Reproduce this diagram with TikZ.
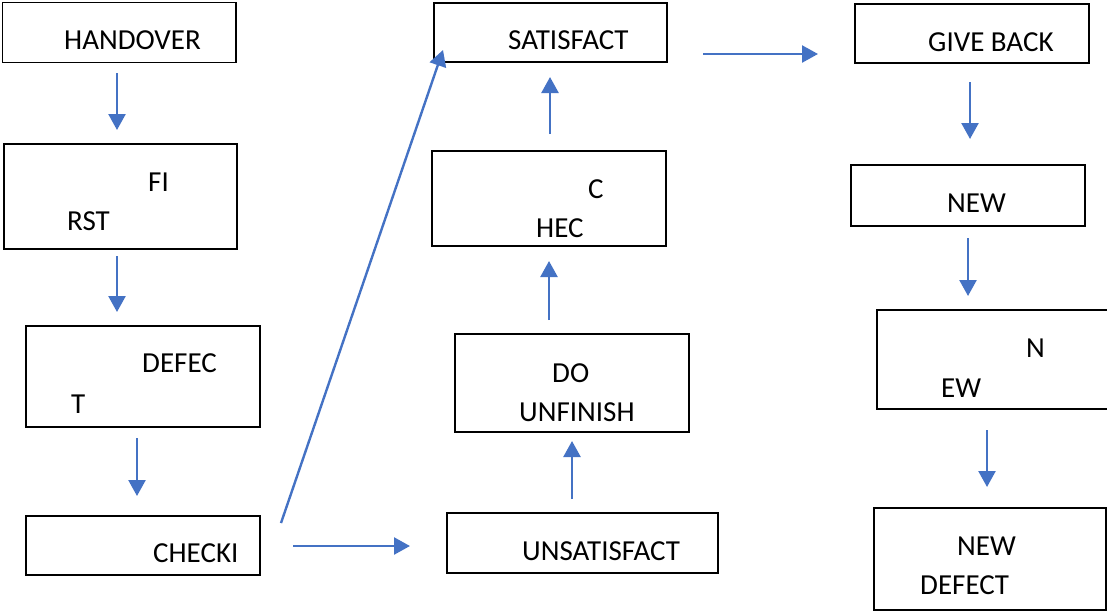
\documentclass[tikz,border=0pt]{standalone}
\usepackage{fontspec}
\setmainfont{Carlito}
\usetikzlibrary{arrows.meta, positioning}
\definecolor{cflow}{HTML}{4472C4}

\begin{document}
\begin{tikzpicture}[x=1pt, y=-1pt,
  box/.style={draw, line width=1.6pt, inner sep=0pt, outer sep=0pt},
  lbl/.style={anchor=base west, inner sep=0pt, font=\fontsize{29}{34}\selectfont},
  arr/.style={-{Triangle[length=16pt, width=17pt]}, line width=2.4pt, draw=cflow}
]
\useasboundingbox (0,0) rectangle (1107,614);

% boxes
\node[box, minimum width=233.5pt, minimum height=60pt]  (handover) at (119.3,32.5) {};
\node[box, minimum width=233pt,   minimum height=105pt] (first)    at (120.5,196.5) {};
\node[box, minimum width=234pt,   minimum height=101pt] (defect)   at (143,376.5) {};
\node[box, minimum width=234pt,   minimum height=59pt]  (checki)   at (143,545.5) {};
\node[box, minimum width=233pt,   minimum height=59pt]  (satis)    at (550.5,32.5) {};
\node[box, minimum width=234pt,   minimum height=95pt]  (check)    at (549,198.5) {};
\node[box, minimum width=234pt,   minimum height=98pt]  (unfin)    at (572,383) {};
\node[box, minimum width=271pt,   minimum height=60pt]  (unsatis)  at (582.5,543) {};
\node[box, minimum width=234pt,   minimum height=59pt]  (giveback) at (972,33.5) {};
\node[box, minimum width=234pt,   minimum height=61pt]  (new)      at (968,195.5) {};
\node[box, minimum width=234pt,   minimum height=99pt]  (newb)     at (994,359.5) {};
\node[box, minimum width=232pt,   minimum height=102pt] (newdef)   at (990,559) {};

% labels
\node[lbl] (tHandover) at (64,49)   {HANDOVER};
\node[lbl] (tFi)       at (148,191) {FI};
\node[lbl] (tRst)      at (67,230)  {RST};
\node[lbl] (tDefec)    at (142,372.5) {DEFEC};
\node[lbl] (tT)        at (71,413)  {T};
\node[lbl] (tChecki)   at (153,562.5) {CHECKI};
\node[lbl] (tSatis)    at (508,49)  {SATISFACT};
\node[lbl] (tC)        at (588,198) {C};
\node[lbl] (tHec)      at (536,237) {HEC};
\node[lbl] (tDo)       at (552,382) {DO};
\node[lbl] (tUnfin)    at (519,421) {UNFINISH};
\node[lbl] (tUnsatis)  at (522,560) {UNSATISFACT};
\node[lbl] (tGive)     at (928,51)  {GIVE BACK};
\node[lbl] (tNew)      at (947,212) {NEW};
\node[lbl] (tN)        at (1026,357) {N};
\node[lbl] (tEw)       at (941,397) {EW};
\node[lbl] (tNewA)     at (957,555) {NEW};
\node[lbl] (tNewB)     at (920,594) {DEFECT};

% arrow ends
\coordinate (h1) at (117,73);   \coordinate (h2) at (117,130);
\coordinate (f1) at (117,256);  \coordinate (f2) at (117,312);
\coordinate (d1) at (137,438);  \coordinate (d2) at (137,496);
\coordinate (c1) at (293,546);  \coordinate (c2) at (410,546);
\coordinate (c3) at (281,523);  \coordinate (c4) at (443,50);
\coordinate (u1) at (572,499);  \coordinate (u2) at (572,441);
\coordinate (o1) at (549,320);  \coordinate (o2) at (549,261);
\coordinate (k1) at (550,134);  \coordinate (k2) at (550,77);
\coordinate (s1) at (703,54);   \coordinate (s2) at (818,54);
\coordinate (g1) at (970,82);   \coordinate (g2) at (970,139);
\coordinate (n1) at (968,238);  \coordinate (n2) at (968,296);
\coordinate (e1) at (987,430);  \coordinate (e2) at (987,487);

\draw[arr] (h1) -- (h2);
\draw[arr] (f1) -- (f2);
\draw[arr] (d1) -- (d2);
\draw[arr] (c1) -- (c2);
\draw[arr] (c3) -- (c4);
\draw[arr] (u1) -- (u2);
\draw[arr] (o1) -- (o2);
\draw[arr] (k1) -- (k2);
\draw[arr] (s1) -- (s2);
\draw[arr] (g1) -- (g2);
\draw[arr] (n1) -- (n2);
\draw[arr] (e1) -- (e2);
\end{tikzpicture}
\end{document}
